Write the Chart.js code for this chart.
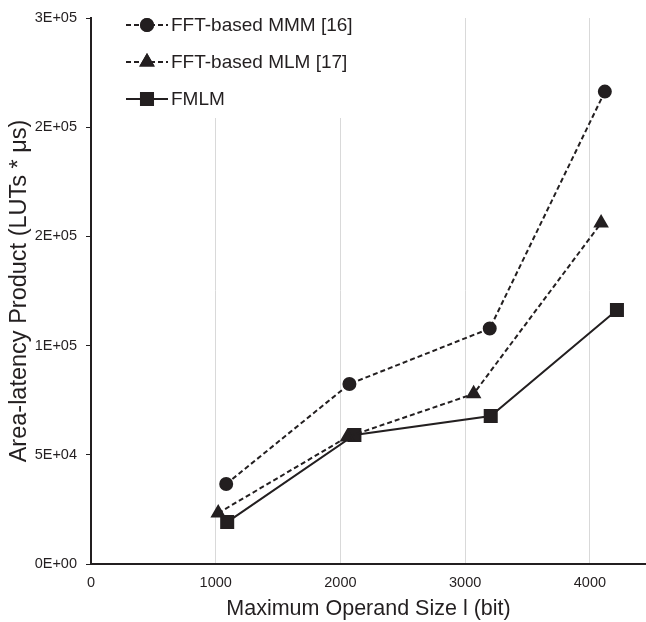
<!DOCTYPE html>
<html lang="en">
<head>
    <meta charset="UTF-8">
    <title>Area-latency Product</title>
    <script src="https://cdn.jsdelivr.net/npm/chart.js"></script>
    <style>
        body { margin: 0; background: #fff; }
        .container { width: 646px; height: 622px; position: relative; }
    </style>
</head>
<body>
    <div class="container">
        <canvas id="myChart"></canvas>
    </div>

    <script>
        // values
        const seriesLabels = ['FFT-based MMM [16]', 'FFT-based MLM [17]', 'FMLM'];
        const mmmSizes = [1084, 2072, 3197, 4120];
        const mmmValues = [36600, 82400, 107800, 216300];
        const mlmSizes = [1020, 2056, 3068, 4090];
        const mlmValues = [23300, 58200, 77900, 156100];
        const fmlmSizes = [1092, 2112, 3205, 4217];
        const fmlmValues = [19200, 59100, 67800, 116300];

        const xTicks = [0, 1000, 2000, 3000, 4000];
        const yTicks = [0, 50000, 100000, 150000, 200000, 250000];

        const ink = '#231f20';
        const fontFamily = "'Liberation Sans', Arial, sans-serif";

        function toPoints(xs, ys) {
            return xs.map((x, i) => ({ x: x, y: ys[i] }));
        }

        // Excel style "0E+00"
        function sciLabel(v) {
            const parts = Number(v).toExponential(0).split('e');
            const exp = parseInt(parts[1], 10);
            const sign = exp < 0 ? '-' : '+';
            return parts[0] + 'E' + sign + String(Math.abs(exp)).padStart(2, '0');
        }

        // legend in the upper left of the plot, line sample with marker in the middle
        const insideLegend = {
            id: 'insideLegend',
            afterDatasetsDraw(chart) {
                const ctx = chart.ctx;
                const area = chart.chartArea;
                ctx.save();
                ctx.fillStyle = '#fff';
                ctx.fillRect(area.left + 2, area.top - 2, 290, 102);
                chart.data.datasets.forEach((ds, i) => {
                    const y = 25 + i * 37;
                    const x0 = 126, x1 = 168, xm = 147;
                    ctx.strokeStyle = ds.borderColor;
                    ctx.lineWidth = ds.borderWidth;
                    ctx.setLineDash(ds.borderDash || []);
                    ctx.beginPath();
                    ctx.moveTo(x0, y);
                    ctx.lineTo(x1, y);
                    ctx.stroke();
                    ctx.setLineDash([]);
                    Chart.helpers.drawPoint(ctx, {
                        pointStyle: ds.pointStyle,
                        radius: ds.pointRadius,
                        borderWidth: 1,
                        rotation: 0
                    }, xm, y);
                    ctx.fillStyle = ds.pointBackgroundColor;
                    ctx.strokeStyle = ds.pointBorderColor;
                    ctx.fill();
                    ctx.stroke();
                    ctx.fillStyle = ink;
                    ctx.font = '19px ' + fontFamily;
                    ctx.textBaseline = 'middle';
                    ctx.textAlign = 'left';
                    ctx.fillText(ds.label, 171, y + 1);
                });
                ctx.restore();
            }
        };

        const ctx = document.getElementById('myChart').getContext('2d');
        const chart = new Chart(ctx, {
            type: 'line',
            data: {
                datasets: [{
                    label: seriesLabels[0],
                    data: toPoints(mmmSizes, mmmValues),
                    borderColor: ink,
                    borderWidth: 2,
                    borderDash: [5, 3],
                    pointStyle: 'circle',
                    pointRadius: 6,
                    pointBackgroundColor: ink,
                    pointBorderColor: ink,
                    tension: 0
                }, {
                    label: seriesLabels[1],
                    data: toPoints(mlmSizes, mlmValues),
                    borderColor: ink,
                    borderWidth: 2,
                    borderDash: [5, 3],
                    pointStyle: 'triangle',
                    pointRadius: 7,
                    pointBackgroundColor: ink,
                    pointBorderColor: ink,
                    tension: 0
                }, {
                    label: seriesLabels[2],
                    data: toPoints(fmlmSizes, fmlmValues),
                    borderColor: ink,
                    borderWidth: 2,
                    pointStyle: 'rect',
                    pointRadius: 8.5,
                    pointBackgroundColor: ink,
                    pointBorderColor: ink,
                    tension: 0
                }]
            },
            options: {
                responsive: true,
                maintainAspectRatio: false,
                animation: false,
                layout: {
                    autoPadding: false,
                    padding: { top: 18, right: 0, bottom: 0, left: 0 }
                },
                plugins: {
                    legend: { display: false },
                    tooltip: { enabled: false }
                },
                scales: {
                    x: {
                        type: 'linear',
                        min: 0,
                        max: 4450,
                        afterBuildTicks: scale => { scale.ticks = xTicks.map(v => ({ value: v })); },
                        afterFit: scale => {
                            scale.height = 58;
                            scale.paddingLeft = 0;
                            scale.paddingRight = 0;
                        },
                        border: { display: true, color: ink, width: 2 },
                        grid: {
                            drawTicks: false,
                            lineWidth: 1,
                            color: c => c.tick && c.tick.value === 0 ? 'rgba(0,0,0,0)' : '#d9d9d9'
                        },
                        ticks: {
                            padding: 10,
                            color: ink,
                            font: { family: fontFamily, size: 14.5 },
                            callback: v => String(v)
                        },
                        title: {
                            display: true,
                            text: 'Maximum Operand Size l (bit)',
                            color: ink,
                            font: { family: fontFamily, size: 21.5 },
                            padding: { top: 0, bottom: 0 }
                        }
                    },
                    y: {
                        type: 'linear',
                        min: 0,
                        max: 250000,
                        afterBuildTicks: scale => { scale.ticks = yTicks.map(v => ({ value: v })); },
                        afterFit: scale => { scale.width = 91; },
                        border: { display: true, color: ink, width: 2 },
                        grid: {
                            drawOnChartArea: false,
                            drawTicks: true,
                            tickLength: 5,
                            color: ink,
                            lineWidth: 1
                        },
                        ticks: {
                            padding: 9,
                            color: ink,
                            font: { family: fontFamily, size: 14.5 },
                            callback: v => sciLabel(v)
                        },
                        title: {
                            display: true,
                            text: 'Area-latency Product (LUTs * \u03BCs)',
                            color: ink,
                            font: { family: fontFamily, size: 23.5 },
                            padding: { top: 5, bottom: 0 }
                        }
                    }
                }
            },
            plugins: [insideLegend]
        });
    </script>
</body>
</html>
